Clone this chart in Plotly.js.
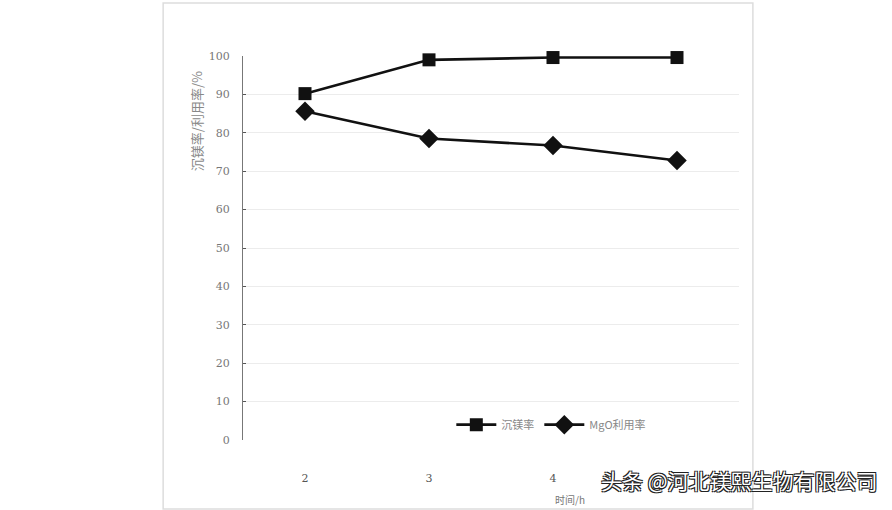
<!DOCTYPE html>
<html>
<head>
<meta charset="utf-8">
<script src="https://cdn.plot.ly/plotly-3.0.1.min.js"></script>
<style>
  html, body { margin: 0; padding: 0; background: #ffffff; }
  #chart { width: 892px; height: 510px; }
</style>
</head>
<body>
<div id="chart"></div>
<script>
const categories = ["2", "3", "4", "5"];
const seriesNames = ["沉镁率", "MgO利用率"];
const precipRate = [90.2, 99.0, 99.6, 99.6];
const mgoUtilization = [85.6, 78.5, 76.7, 72.8];
const yTickVals = [0, 10, 20, 30, 40, 50, 60, 70, 80, 90, 100];
const yTitle = "沉镁率/利用率/%";
const xTitle = "时间/h";
const watermark = "头条 @河北镁熙生物有限公司";

const xIdx = categories.map((c, i) => i);

const traces = [
  {
    x: xIdx, y: precipRate, name: seriesNames[0], type: "scatter", mode: "lines+markers",
    cliponaxis: false,
    line: { color: "#111111", width: 2.6 },
    marker: { symbol: "square", size: 13, color: "#111111" }
  },
  {
    x: xIdx, y: mgoUtilization, name: seriesNames[1], type: "scatter", mode: "lines+markers",
    cliponaxis: false,
    line: { color: "#111111", width: 2.6 },
    marker: { symbol: "diamond", size: 15, color: "#111111" }
  }
];

const layout = {
  width: 892, height: 510,
  margin: { l: 243, r: 153, t: 56, b: 70 },
  paper_bgcolor: "#ffffff",
  plot_bgcolor: "#ffffff",
  showlegend: true,
  legend: {
    orientation: "h", x: 0.42, y: 0.04, xanchor: "left", yanchor: "middle",
    font: { family: "Noto Sans CJK SC, sans-serif", size: 11, color: "#888888" },
    bgcolor: "rgba(0,0,0,0)", itemwidth: 40, tracegroupgap: 0
  },
  xaxis: {
    range: [-0.5, 3.5],
    tickvals: xIdx, ticktext: categories,
    showgrid: false, zeroline: false, showline: false, ticks: "",
    ticklabelstandoff: 30,
    tickfont: { family: "DejaVu Serif, serif", size: 11, color: "#555555" }
  },
  yaxis: {
    range: [0, 100],
    tickvals: yTickVals,
    showgrid: true, gridcolor: "#ececec", gridwidth: 1,
    zeroline: false, showline: true, linecolor: "#777777", linewidth: 1,
    ticks: "inside", ticklen: 3, tickcolor: "#555555",
    ticklabelstandoff: 10,
    tickfont: { family: "DejaVu Serif, serif", size: 11, color: "#777777" }
  },
  shapes: [
    {
      type: "rect", xref: "paper", yref: "paper",
      x0: -0.161, x1: 1.028, y0: -0.18, y1: 1.138,
      line: { color: "#dddddd", width: 1.5 }, fillcolor: "rgba(0,0,0,0)", layer: "below"
    }
  ],
  annotations: [
    {
      text: yTitle, xref: "paper", yref: "paper",
      x: -0.095, y: 0.83, textangle: -90, showarrow: false,
      xanchor: "center", yanchor: "middle",
      font: { family: "Noto Sans CJK SC, sans-serif", size: 13, color: "#888888" }
    },
    {
      text: xTitle, xref: "paper", yref: "paper",
      x: 0.66, y: -0.155, showarrow: false,
      xanchor: "center", yanchor: "middle",
      font: { family: "Noto Sans CJK SC, sans-serif", size: 10, color: "#777777" }
    },
    {
      text: watermark, xref: "paper", yref: "paper",
      x: 1.285, y: -0.105, showarrow: false,
      xanchor: "right", yanchor: "middle",
      font: {
        family: "Noto Sans CJK SC, sans-serif", size: 21, color: "#ffffff",
        shadow: "1px 1px 0 #222, -1px -1px 0 #222, 1px -1px 0 #222, -1px 1px 0 #222"
      }
    }
  ]
};

Plotly.newPlot("chart", traces, layout, { displayModeBar: false, staticPlot: true });
</script>
</body>
</html>
